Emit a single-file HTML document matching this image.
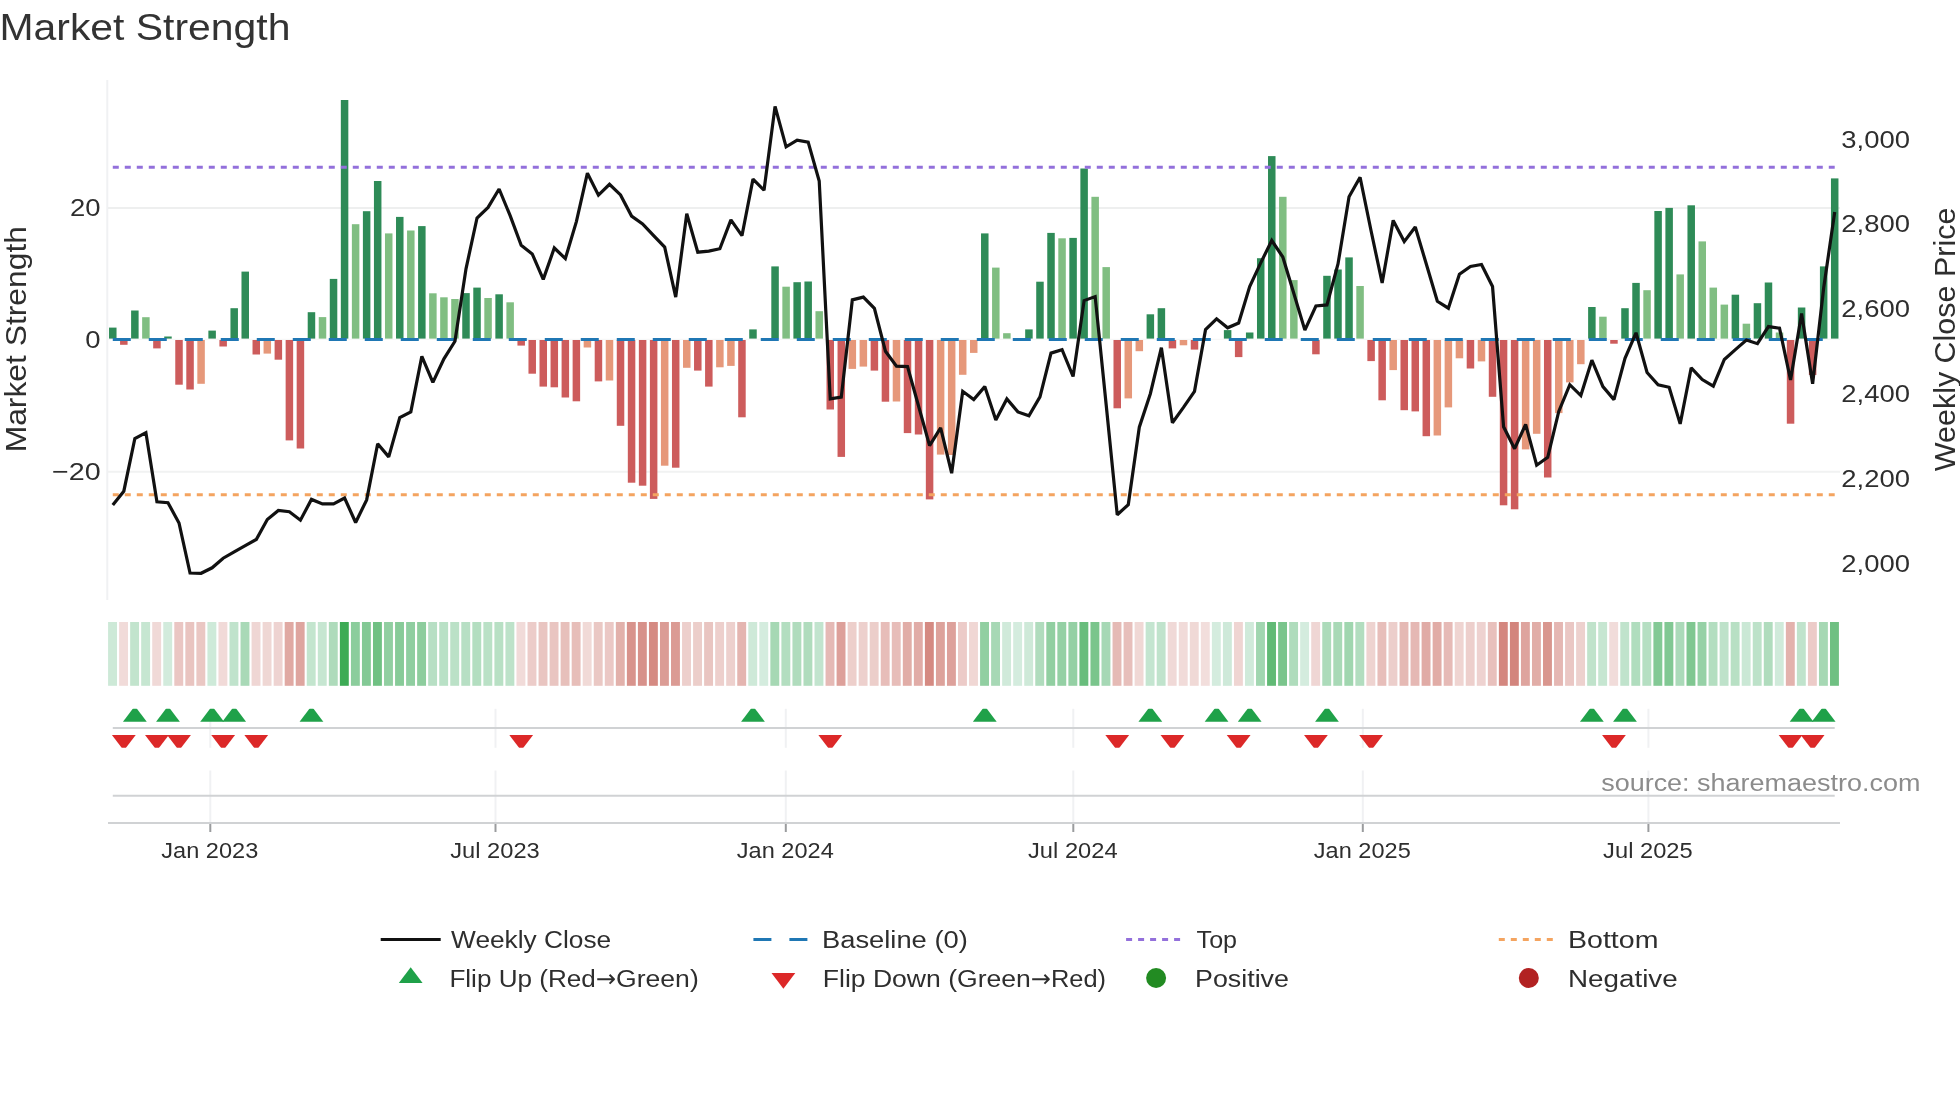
<!DOCTYPE html>
<html><head><meta charset="utf-8"><title>Market Strength</title>
<style>html,body{margin:0;padding:0;background:#fff;}svg{display:block;will-change:transform;}text{font-family:"Liberation Sans",sans-serif;}</style>
</head><body>
<svg width="1960" height="1102" viewBox="0 0 1960 1102">
<rect x="0" y="0" width="1960" height="1102" fill="#ffffff"/>
<text x="-0.5" y="40" font-size="37.08" text-anchor="start" fill="#333333" textLength="290.91" lengthAdjust="spacingAndGlyphs">Market Strength</text>
<line x1="107.3" y1="80" x2="107.3" y2="600" stroke="#f0f1f3" stroke-width="2"/>
<line x1="108" y1="208.0" x2="1840" y2="208.0" stroke="#eeefef" stroke-width="2"/>
<line x1="108" y1="471.85" x2="1840" y2="471.85" stroke="#f1f2f2" stroke-width="2"/>
<g shape-rendering="auto">
<rect x="109.03" y="327.60" width="7.5" height="11.20" fill="#2e8b57"/>
<rect x="120.07" y="340.00" width="7.5" height="4.80" fill="#cd5c5c"/>
<rect x="131.11" y="310.50" width="7.5" height="28.30" fill="#2e8b57"/>
<rect x="142.14" y="317.20" width="7.5" height="21.60" fill="#80be82"/>
<rect x="153.18" y="340.00" width="7.5" height="8.40" fill="#cd5c5c"/>
<rect x="164.22" y="336.50" width="7.5" height="2.30" fill="#2e8b57"/>
<rect x="175.26" y="340.00" width="7.5" height="44.70" fill="#cd5c5c"/>
<rect x="186.30" y="340.00" width="7.5" height="49.50" fill="#cd5c5c"/>
<rect x="197.33" y="340.00" width="7.5" height="43.80" fill="#e6987a"/>
<rect x="208.37" y="330.60" width="7.5" height="8.20" fill="#2e8b57"/>
<rect x="219.41" y="340.00" width="7.5" height="6.50" fill="#cd5c5c"/>
<rect x="230.45" y="308.20" width="7.5" height="30.60" fill="#2e8b57"/>
<rect x="241.49" y="271.60" width="7.5" height="67.20" fill="#2e8b57"/>
<rect x="252.52" y="340.00" width="7.5" height="14.50" fill="#cd5c5c"/>
<rect x="263.56" y="340.00" width="7.5" height="13.60" fill="#e6987a"/>
<rect x="274.60" y="340.00" width="7.5" height="19.70" fill="#cd5c5c"/>
<rect x="285.64" y="340.00" width="7.5" height="100.40" fill="#cd5c5c"/>
<rect x="296.68" y="340.00" width="7.5" height="108.50" fill="#cd5c5c"/>
<rect x="307.71" y="312.20" width="7.5" height="26.60" fill="#2e8b57"/>
<rect x="318.75" y="317.10" width="7.5" height="21.70" fill="#80be82"/>
<rect x="329.79" y="278.90" width="7.5" height="59.90" fill="#2e8b57"/>
<rect x="340.83" y="100.00" width="7.5" height="238.80" fill="#2e8b57"/>
<rect x="351.87" y="224.20" width="7.5" height="114.60" fill="#80be82"/>
<rect x="362.90" y="211.20" width="7.5" height="127.60" fill="#2e8b57"/>
<rect x="373.94" y="181.00" width="7.5" height="157.80" fill="#2e8b57"/>
<rect x="384.98" y="233.40" width="7.5" height="105.40" fill="#80be82"/>
<rect x="396.02" y="216.90" width="7.5" height="121.90" fill="#2e8b57"/>
<rect x="407.06" y="230.50" width="7.5" height="108.30" fill="#80be82"/>
<rect x="418.09" y="226.10" width="7.5" height="112.70" fill="#2e8b57"/>
<rect x="429.13" y="293.30" width="7.5" height="45.50" fill="#80be82"/>
<rect x="440.17" y="297.30" width="7.5" height="41.50" fill="#80be82"/>
<rect x="451.21" y="299.00" width="7.5" height="39.80" fill="#80be82"/>
<rect x="462.25" y="293.10" width="7.5" height="45.70" fill="#2e8b57"/>
<rect x="473.28" y="287.60" width="7.5" height="51.20" fill="#2e8b57"/>
<rect x="484.32" y="298.00" width="7.5" height="40.80" fill="#80be82"/>
<rect x="495.36" y="294.30" width="7.5" height="44.50" fill="#2e8b57"/>
<rect x="506.40" y="302.30" width="7.5" height="36.50" fill="#80be82"/>
<rect x="517.44" y="340.00" width="7.5" height="5.60" fill="#cd5c5c"/>
<rect x="528.47" y="340.00" width="7.5" height="33.70" fill="#cd5c5c"/>
<rect x="539.51" y="340.00" width="7.5" height="46.60" fill="#cd5c5c"/>
<rect x="550.55" y="340.00" width="7.5" height="47.30" fill="#cd5c5c"/>
<rect x="561.59" y="340.00" width="7.5" height="57.50" fill="#cd5c5c"/>
<rect x="572.63" y="340.00" width="7.5" height="61.30" fill="#cd5c5c"/>
<rect x="583.66" y="340.00" width="7.5" height="7.50" fill="#e6987a"/>
<rect x="594.70" y="340.00" width="7.5" height="41.40" fill="#cd5c5c"/>
<rect x="605.74" y="340.00" width="7.5" height="40.50" fill="#e6987a"/>
<rect x="616.78" y="340.00" width="7.5" height="85.80" fill="#cd5c5c"/>
<rect x="627.82" y="340.00" width="7.5" height="142.70" fill="#cd5c5c"/>
<rect x="638.85" y="340.00" width="7.5" height="145.70" fill="#cd5c5c"/>
<rect x="649.89" y="340.00" width="7.5" height="158.90" fill="#cd5c5c"/>
<rect x="660.93" y="340.00" width="7.5" height="125.70" fill="#e6987a"/>
<rect x="671.97" y="340.00" width="7.5" height="127.70" fill="#cd5c5c"/>
<rect x="683.01" y="340.00" width="7.5" height="27.80" fill="#e6987a"/>
<rect x="694.04" y="340.00" width="7.5" height="30.60" fill="#cd5c5c"/>
<rect x="705.08" y="340.00" width="7.5" height="46.60" fill="#cd5c5c"/>
<rect x="716.12" y="340.00" width="7.5" height="27.30" fill="#e6987a"/>
<rect x="727.16" y="340.00" width="7.5" height="25.90" fill="#e6987a"/>
<rect x="738.20" y="340.00" width="7.5" height="77.30" fill="#cd5c5c"/>
<rect x="749.23" y="329.40" width="7.5" height="9.40" fill="#2e8b57"/>
<rect x="771.31" y="266.40" width="7.5" height="72.40" fill="#2e8b57"/>
<rect x="782.35" y="286.70" width="7.5" height="52.10" fill="#80be82"/>
<rect x="793.39" y="282.20" width="7.5" height="56.60" fill="#2e8b57"/>
<rect x="804.42" y="281.50" width="7.5" height="57.30" fill="#2e8b57"/>
<rect x="815.46" y="311.20" width="7.5" height="27.60" fill="#80be82"/>
<rect x="826.50" y="340.00" width="7.5" height="69.50" fill="#cd5c5c"/>
<rect x="837.54" y="340.00" width="7.5" height="116.90" fill="#cd5c5c"/>
<rect x="848.58" y="340.00" width="7.5" height="28.90" fill="#e6987a"/>
<rect x="859.61" y="340.00" width="7.5" height="26.60" fill="#e6987a"/>
<rect x="870.65" y="340.00" width="7.5" height="30.60" fill="#cd5c5c"/>
<rect x="881.69" y="340.00" width="7.5" height="61.70" fill="#cd5c5c"/>
<rect x="892.73" y="340.00" width="7.5" height="61.50" fill="#e6987a"/>
<rect x="903.77" y="340.00" width="7.5" height="93.10" fill="#cd5c5c"/>
<rect x="914.80" y="340.00" width="7.5" height="94.50" fill="#cd5c5c"/>
<rect x="925.84" y="340.00" width="7.5" height="159.40" fill="#cd5c5c"/>
<rect x="936.88" y="340.00" width="7.5" height="114.60" fill="#e6987a"/>
<rect x="947.92" y="340.00" width="7.5" height="115.00" fill="#e6987a"/>
<rect x="958.96" y="340.00" width="7.5" height="34.80" fill="#e6987a"/>
<rect x="969.99" y="340.00" width="7.5" height="12.90" fill="#e6987a"/>
<rect x="981.03" y="233.40" width="7.5" height="105.40" fill="#2e8b57"/>
<rect x="992.07" y="267.60" width="7.5" height="71.20" fill="#80be82"/>
<rect x="1003.11" y="333.20" width="7.5" height="5.60" fill="#80be82"/>
<rect x="1025.18" y="329.40" width="7.5" height="9.40" fill="#2e8b57"/>
<rect x="1036.22" y="281.70" width="7.5" height="57.10" fill="#2e8b57"/>
<rect x="1047.26" y="232.90" width="7.5" height="105.90" fill="#2e8b57"/>
<rect x="1058.30" y="238.30" width="7.5" height="100.50" fill="#80be82"/>
<rect x="1069.34" y="237.90" width="7.5" height="100.90" fill="#2e8b57"/>
<rect x="1080.37" y="168.50" width="7.5" height="170.30" fill="#2e8b57"/>
<rect x="1091.41" y="196.80" width="7.5" height="142.00" fill="#80be82"/>
<rect x="1102.45" y="267.10" width="7.5" height="71.70" fill="#80be82"/>
<rect x="1113.49" y="340.00" width="7.5" height="68.30" fill="#cd5c5c"/>
<rect x="1124.53" y="340.00" width="7.5" height="58.40" fill="#e6987a"/>
<rect x="1135.56" y="340.00" width="7.5" height="11.20" fill="#e6987a"/>
<rect x="1146.60" y="314.30" width="7.5" height="24.50" fill="#2e8b57"/>
<rect x="1157.64" y="308.20" width="7.5" height="30.60" fill="#2e8b57"/>
<rect x="1168.68" y="340.00" width="7.5" height="8.40" fill="#cd5c5c"/>
<rect x="1179.72" y="340.00" width="7.5" height="5.30" fill="#e6987a"/>
<rect x="1190.75" y="340.00" width="7.5" height="9.60" fill="#cd5c5c"/>
<rect x="1223.87" y="330.10" width="7.5" height="8.70" fill="#2e8b57"/>
<rect x="1234.91" y="340.00" width="7.5" height="17.10" fill="#cd5c5c"/>
<rect x="1245.94" y="332.50" width="7.5" height="6.30" fill="#2e8b57"/>
<rect x="1256.98" y="258.20" width="7.5" height="80.60" fill="#2e8b57"/>
<rect x="1268.02" y="156.10" width="7.5" height="182.70" fill="#2e8b57"/>
<rect x="1279.06" y="196.80" width="7.5" height="142.00" fill="#80be82"/>
<rect x="1290.10" y="280.10" width="7.5" height="58.70" fill="#80be82"/>
<rect x="1312.17" y="340.00" width="7.5" height="14.30" fill="#cd5c5c"/>
<rect x="1323.21" y="275.80" width="7.5" height="63.00" fill="#2e8b57"/>
<rect x="1334.25" y="269.50" width="7.5" height="69.30" fill="#2e8b57"/>
<rect x="1345.29" y="257.40" width="7.5" height="81.40" fill="#2e8b57"/>
<rect x="1356.32" y="286.00" width="7.5" height="52.80" fill="#80be82"/>
<rect x="1367.36" y="340.00" width="7.5" height="21.10" fill="#cd5c5c"/>
<rect x="1378.40" y="340.00" width="7.5" height="60.30" fill="#cd5c5c"/>
<rect x="1389.44" y="340.00" width="7.5" height="30.10" fill="#e6987a"/>
<rect x="1400.48" y="340.00" width="7.5" height="70.20" fill="#cd5c5c"/>
<rect x="1411.51" y="340.00" width="7.5" height="71.40" fill="#cd5c5c"/>
<rect x="1422.55" y="340.00" width="7.5" height="96.20" fill="#cd5c5c"/>
<rect x="1433.59" y="340.00" width="7.5" height="95.50" fill="#e6987a"/>
<rect x="1444.63" y="340.00" width="7.5" height="67.40" fill="#e6987a"/>
<rect x="1455.67" y="340.00" width="7.5" height="18.30" fill="#e6987a"/>
<rect x="1466.70" y="340.00" width="7.5" height="28.50" fill="#cd5c5c"/>
<rect x="1477.74" y="340.00" width="7.5" height="21.40" fill="#e6987a"/>
<rect x="1488.78" y="340.00" width="7.5" height="56.80" fill="#cd5c5c"/>
<rect x="1499.82" y="340.00" width="7.5" height="165.30" fill="#cd5c5c"/>
<rect x="1510.86" y="340.00" width="7.5" height="169.30" fill="#cd5c5c"/>
<rect x="1521.89" y="340.00" width="7.5" height="109.40" fill="#e6987a"/>
<rect x="1532.93" y="340.00" width="7.5" height="93.80" fill="#e6987a"/>
<rect x="1543.97" y="340.00" width="7.5" height="137.50" fill="#cd5c5c"/>
<rect x="1555.01" y="340.00" width="7.5" height="73.10" fill="#e6987a"/>
<rect x="1566.05" y="340.00" width="7.5" height="42.40" fill="#e6987a"/>
<rect x="1577.08" y="340.00" width="7.5" height="24.20" fill="#e6987a"/>
<rect x="1588.12" y="307.00" width="7.5" height="31.80" fill="#2e8b57"/>
<rect x="1599.16" y="316.70" width="7.5" height="22.10" fill="#80be82"/>
<rect x="1610.20" y="340.00" width="7.5" height="3.70" fill="#cd5c5c"/>
<rect x="1621.24" y="308.20" width="7.5" height="30.60" fill="#2e8b57"/>
<rect x="1632.27" y="282.90" width="7.5" height="55.90" fill="#2e8b57"/>
<rect x="1643.31" y="290.20" width="7.5" height="48.60" fill="#80be82"/>
<rect x="1654.35" y="211.00" width="7.5" height="127.80" fill="#2e8b57"/>
<rect x="1665.39" y="207.90" width="7.5" height="130.90" fill="#2e8b57"/>
<rect x="1676.43" y="274.40" width="7.5" height="64.40" fill="#80be82"/>
<rect x="1687.46" y="205.30" width="7.5" height="133.50" fill="#2e8b57"/>
<rect x="1698.50" y="241.40" width="7.5" height="97.40" fill="#80be82"/>
<rect x="1709.54" y="287.60" width="7.5" height="51.20" fill="#80be82"/>
<rect x="1720.58" y="304.60" width="7.5" height="34.20" fill="#80be82"/>
<rect x="1731.62" y="294.70" width="7.5" height="44.10" fill="#2e8b57"/>
<rect x="1742.65" y="323.70" width="7.5" height="15.10" fill="#80be82"/>
<rect x="1753.69" y="303.20" width="7.5" height="35.60" fill="#2e8b57"/>
<rect x="1764.73" y="282.50" width="7.5" height="56.30" fill="#2e8b57"/>
<rect x="1775.77" y="332.50" width="7.5" height="6.30" fill="#80be82"/>
<rect x="1786.81" y="340.00" width="7.5" height="83.70" fill="#cd5c5c"/>
<rect x="1797.84" y="307.50" width="7.5" height="31.30" fill="#2e8b57"/>
<rect x="1808.88" y="340.00" width="7.5" height="35.00" fill="#cd5c5c"/>
<rect x="1819.92" y="266.40" width="7.5" height="72.40" fill="#2e8b57"/>
<rect x="1830.96" y="178.40" width="7.5" height="160.40" fill="#2e8b57"/>
</g>
<line x1="108" y1="339.4" x2="1840" y2="339.4" stroke="#f6f7f7" stroke-width="1.2"/>
<line x1="112.78" y1="339.4" x2="1834.71" y2="339.4" stroke="#1f77b4" stroke-width="3" stroke-dasharray="18,18"/>
<line x1="112.78" y1="167.3" x2="1834.71" y2="167.3" stroke="#9370db" stroke-width="3" stroke-dasharray="6,6"/>
<line x1="112.78" y1="494.7" x2="1834.71" y2="494.7" stroke="#f4a460" stroke-width="3" stroke-dasharray="6,6"/>
<polyline points="112.78,505.1 123.82,491.2 134.86,438.5 145.89,432.6 156.93,501.8 167.97,502.7 179.01,523.0 190.05,573.0 201.08,573.3 212.12,567.8 223.16,558.2 234.20,551.8 245.24,545.7 256.27,539.5 267.31,519.5 278.35,510.5 289.39,511.7 300.43,520.2 311.46,499.4 322.50,503.9 333.54,503.9 344.58,498.0 355.62,522.5 366.65,499.9 377.69,443.7 388.73,456.9 399.77,417.5 410.81,411.9 421.84,356.4 432.88,382.4 443.92,358.8 454.96,341.3 466.00,268.8 477.03,218.0 488.07,207.4 499.11,189.0 510.15,215.7 521.19,245.2 532.22,253.9 543.26,279.4 554.30,248.0 565.34,258.6 576.38,221.6 587.41,173.2 598.45,195.1 609.49,184.3 620.53,194.9 631.57,216.1 642.60,223.9 653.64,235.7 664.68,247.1 675.72,297.1 686.76,213.8 697.79,252.2 708.83,251.1 719.87,248.7 730.91,219.9 741.95,235.7 752.98,179.1 764.02,190.2 775.06,106.4 786.10,146.8 797.14,140.2 808.17,142.1 819.21,181.0 830.25,398.9 841.29,397.2 852.33,299.9 863.36,297.1 874.40,308.4 885.44,351.2 896.48,366.1 907.52,366.6 918.55,406.0 929.59,445.6 940.63,427.9 951.67,473.2 962.71,391.3 973.74,399.6 984.78,386.6 995.82,420.1 1006.86,398.9 1017.90,411.9 1028.93,415.7 1039.97,396.8 1051.01,353.1 1062.05,349.6 1073.09,376.5 1084.12,300.6 1095.16,296.6 1106.20,405.0 1117.24,514.8 1128.28,504.6 1139.31,427.2 1150.35,393.7 1161.39,347.7 1172.43,422.7 1183.47,407.4 1194.50,391.3 1205.54,329.6 1216.58,318.8 1227.62,327.8 1238.66,323.0 1249.69,286.5 1260.73,262.9 1271.77,240.5 1282.81,257.0 1293.85,293.5 1304.88,330.1 1315.92,306.0 1326.96,304.9 1338.00,264.0 1349.04,196.8 1360.07,177.2 1371.11,231.0 1382.15,282.9 1393.19,220.4 1404.23,241.6 1415.26,227.0 1426.30,264.0 1437.34,301.3 1448.38,308.2 1459.42,274.2 1470.45,266.4 1481.49,264.5 1492.53,286.5 1503.57,426.7 1514.61,448.7 1525.64,424.4 1536.68,465.2 1547.72,457.4 1558.76,411.4 1569.80,384.7 1580.83,395.6 1591.87,360.2 1602.91,386.6 1613.95,399.6 1624.99,358.3 1636.02,332.8 1647.06,372.5 1658.10,384.7 1669.14,387.3 1680.18,423.9 1691.21,367.8 1702.25,379.6 1713.29,386.2 1724.33,359.5 1735.37,349.6 1746.40,340.1 1757.44,343.7 1768.48,326.6 1779.52,328.2 1790.56,380.0 1801.59,313.6 1812.63,383.8 1823.67,288.0 1834.71,212.1" fill="none" stroke="#111111" stroke-width="3.2" stroke-linejoin="miter" stroke-miterlimit="2"/>
<text x="100.6" y="216.0" font-size="24.72" text-anchor="end" fill="#2e2e2e" textLength="30.53" lengthAdjust="spacingAndGlyphs">20</text>
<text x="100.6" y="347.8" font-size="24.72" text-anchor="end" fill="#2e2e2e" textLength="15.27" lengthAdjust="spacingAndGlyphs">0</text>
<text x="100.6" y="479.8" font-size="24.72" text-anchor="end" fill="#2e2e2e" textLength="48.64" lengthAdjust="spacingAndGlyphs">−20</text>
<text x="1841.3" y="147.6" font-size="24.72" text-anchor="start" fill="#2e2e2e" textLength="68.69" lengthAdjust="spacingAndGlyphs">3,000</text>
<text x="1841.3" y="232.42" font-size="24.72" text-anchor="start" fill="#2e2e2e" textLength="68.69" lengthAdjust="spacingAndGlyphs">2,800</text>
<text x="1841.3" y="317.24" font-size="24.72" text-anchor="start" fill="#2e2e2e" textLength="68.69" lengthAdjust="spacingAndGlyphs">2,600</text>
<text x="1841.3" y="402.05999999999995" font-size="24.72" text-anchor="start" fill="#2e2e2e" textLength="68.69" lengthAdjust="spacingAndGlyphs">2,400</text>
<text x="1841.3" y="486.88" font-size="24.72" text-anchor="start" fill="#2e2e2e" textLength="68.69" lengthAdjust="spacingAndGlyphs">2,200</text>
<text x="1841.3" y="571.6999999999999" font-size="24.72" text-anchor="start" fill="#2e2e2e" textLength="68.69" lengthAdjust="spacingAndGlyphs">2,000</text>
<text x="26.2" y="339.2" font-size="28.84" text-anchor="middle" fill="#2e2e2e" textLength="226.34" lengthAdjust="spacingAndGlyphs" transform="rotate(-90 26.2 339.2)">Market Strength</text>
<text x="1954.6" y="339.4" font-size="28.84" text-anchor="middle" fill="#2e2e2e" textLength="263.52" lengthAdjust="spacingAndGlyphs" transform="rotate(-90 1954.6 339.4)">Weekly Close Price</text>
<rect x="108.08" y="622" width="8.9" height="63.8" fill="#cde9d7"/>
<rect x="119.12" y="622" width="8.9" height="63.8" fill="#f1dbd9"/>
<rect x="130.16" y="622" width="8.9" height="63.8" fill="#c2e4cd"/>
<rect x="141.19" y="622" width="8.9" height="63.8" fill="#c6e6d1"/>
<rect x="152.23" y="622" width="8.9" height="63.8" fill="#f0d9d7"/>
<rect x="163.27" y="622" width="8.9" height="63.8" fill="#d2ebdc"/>
<rect x="174.31" y="622" width="8.9" height="63.8" fill="#eac6c3"/>
<rect x="185.35" y="622" width="8.9" height="63.8" fill="#e9c4c0"/>
<rect x="196.38" y="622" width="8.9" height="63.8" fill="#eac7c3"/>
<rect x="207.42" y="622" width="8.9" height="63.8" fill="#ceead9"/>
<rect x="218.46" y="622" width="8.9" height="63.8" fill="#f1dad8"/>
<rect x="229.50" y="622" width="8.9" height="63.8" fill="#c0e3cc"/>
<rect x="240.54" y="622" width="8.9" height="63.8" fill="#a9d9b7"/>
<rect x="251.57" y="622" width="8.9" height="63.8" fill="#efd6d4"/>
<rect x="262.61" y="622" width="8.9" height="63.8" fill="#efd7d4"/>
<rect x="273.65" y="622" width="8.9" height="63.8" fill="#eed3d1"/>
<rect x="284.69" y="622" width="8.9" height="63.8" fill="#e0a9a3"/>
<rect x="295.73" y="622" width="8.9" height="63.8" fill="#dea59f"/>
<rect x="306.76" y="622" width="8.9" height="63.8" fill="#c3e5ce"/>
<rect x="317.80" y="622" width="8.9" height="63.8" fill="#c6e6d1"/>
<rect x="328.84" y="622" width="8.9" height="63.8" fill="#aedbbb"/>
<rect x="339.88" y="622" width="8.9" height="63.8" fill="#3dab55"/>
<rect x="350.92" y="622" width="8.9" height="63.8" fill="#8bcd9c"/>
<rect x="361.95" y="622" width="8.9" height="63.8" fill="#83c995"/>
<rect x="372.99" y="622" width="8.9" height="63.8" fill="#70c183"/>
<rect x="384.03" y="622" width="8.9" height="63.8" fill="#91cfa1"/>
<rect x="395.07" y="622" width="8.9" height="63.8" fill="#87cb98"/>
<rect x="406.11" y="622" width="8.9" height="63.8" fill="#8fcea0"/>
<rect x="417.14" y="622" width="8.9" height="63.8" fill="#8dcd9d"/>
<rect x="428.18" y="622" width="8.9" height="63.8" fill="#b7dfc4"/>
<rect x="439.22" y="622" width="8.9" height="63.8" fill="#b9e1c6"/>
<rect x="450.26" y="622" width="8.9" height="63.8" fill="#bbe1c7"/>
<rect x="461.30" y="622" width="8.9" height="63.8" fill="#b7dfc4"/>
<rect x="472.33" y="622" width="8.9" height="63.8" fill="#b3dec0"/>
<rect x="483.37" y="622" width="8.9" height="63.8" fill="#bae1c6"/>
<rect x="494.41" y="622" width="8.9" height="63.8" fill="#b8e0c4"/>
<rect x="505.45" y="622" width="8.9" height="63.8" fill="#bde2c9"/>
<rect x="516.49" y="622" width="8.9" height="63.8" fill="#f1dbd9"/>
<rect x="527.52" y="622" width="8.9" height="63.8" fill="#ecccc9"/>
<rect x="538.56" y="622" width="8.9" height="63.8" fill="#e9c5c1"/>
<rect x="549.60" y="622" width="8.9" height="63.8" fill="#e9c5c1"/>
<rect x="560.64" y="622" width="8.9" height="63.8" fill="#e7c0bb"/>
<rect x="571.68" y="622" width="8.9" height="63.8" fill="#e7beb9"/>
<rect x="582.71" y="622" width="8.9" height="63.8" fill="#f1dad7"/>
<rect x="593.75" y="622" width="8.9" height="63.8" fill="#eac8c4"/>
<rect x="604.79" y="622" width="8.9" height="63.8" fill="#ebc8c5"/>
<rect x="615.83" y="622" width="8.9" height="63.8" fill="#e2b1ab"/>
<rect x="626.87" y="622" width="8.9" height="63.8" fill="#d8938c"/>
<rect x="637.90" y="622" width="8.9" height="63.8" fill="#d7918a"/>
<rect x="648.94" y="622" width="8.9" height="63.8" fill="#d58a82"/>
<rect x="659.98" y="622" width="8.9" height="63.8" fill="#db9c95"/>
<rect x="671.02" y="622" width="8.9" height="63.8" fill="#db9b94"/>
<rect x="682.06" y="622" width="8.9" height="63.8" fill="#edcfcc"/>
<rect x="693.09" y="622" width="8.9" height="63.8" fill="#ecceca"/>
<rect x="704.13" y="622" width="8.9" height="63.8" fill="#e9c5c1"/>
<rect x="715.17" y="622" width="8.9" height="63.8" fill="#edcfcc"/>
<rect x="726.21" y="622" width="8.9" height="63.8" fill="#edd0cd"/>
<rect x="737.25" y="622" width="8.9" height="63.8" fill="#e4b5b0"/>
<rect x="748.28" y="622" width="8.9" height="63.8" fill="#cee9d8"/>
<rect x="759.32" y="622" width="8.9" height="63.8" fill="#d4ecde"/>
<rect x="770.36" y="622" width="8.9" height="63.8" fill="#a6d8b4"/>
<rect x="781.40" y="622" width="8.9" height="63.8" fill="#b3dec0"/>
<rect x="792.44" y="622" width="8.9" height="63.8" fill="#b0dcbd"/>
<rect x="803.47" y="622" width="8.9" height="63.8" fill="#b0dcbd"/>
<rect x="814.51" y="622" width="8.9" height="63.8" fill="#c2e4ce"/>
<rect x="825.55" y="622" width="8.9" height="63.8" fill="#e5b9b5"/>
<rect x="836.59" y="622" width="8.9" height="63.8" fill="#dda09a"/>
<rect x="847.63" y="622" width="8.9" height="63.8" fill="#edcfcb"/>
<rect x="858.66" y="622" width="8.9" height="63.8" fill="#edd0cd"/>
<rect x="869.70" y="622" width="8.9" height="63.8" fill="#ecceca"/>
<rect x="880.74" y="622" width="8.9" height="63.8" fill="#e7bdb9"/>
<rect x="891.78" y="622" width="8.9" height="63.8" fill="#e7bdb9"/>
<rect x="902.82" y="622" width="8.9" height="63.8" fill="#e1ada7"/>
<rect x="913.85" y="622" width="8.9" height="63.8" fill="#e1aca7"/>
<rect x="924.89" y="622" width="8.9" height="63.8" fill="#d58a82"/>
<rect x="935.93" y="622" width="8.9" height="63.8" fill="#dda29b"/>
<rect x="946.97" y="622" width="8.9" height="63.8" fill="#dda19b"/>
<rect x="958.01" y="622" width="8.9" height="63.8" fill="#eccbc8"/>
<rect x="969.04" y="622" width="8.9" height="63.8" fill="#f0d7d4"/>
<rect x="980.08" y="622" width="8.9" height="63.8" fill="#91cfa1"/>
<rect x="991.12" y="622" width="8.9" height="63.8" fill="#a7d8b5"/>
<rect x="1002.16" y="622" width="8.9" height="63.8" fill="#d0eada"/>
<rect x="1013.20" y="622" width="8.9" height="63.8" fill="#d4ecde"/>
<rect x="1024.23" y="622" width="8.9" height="63.8" fill="#cee9d8"/>
<rect x="1035.27" y="622" width="8.9" height="63.8" fill="#b0dcbd"/>
<rect x="1046.31" y="622" width="8.9" height="63.8" fill="#91cfa1"/>
<rect x="1057.35" y="622" width="8.9" height="63.8" fill="#94d0a4"/>
<rect x="1068.39" y="622" width="8.9" height="63.8" fill="#94d0a4"/>
<rect x="1079.42" y="622" width="8.9" height="63.8" fill="#68bd7c"/>
<rect x="1090.46" y="622" width="8.9" height="63.8" fill="#7ac58c"/>
<rect x="1101.50" y="622" width="8.9" height="63.8" fill="#a6d8b5"/>
<rect x="1112.54" y="622" width="8.9" height="63.8" fill="#e5bab5"/>
<rect x="1123.58" y="622" width="8.9" height="63.8" fill="#e7bfbb"/>
<rect x="1134.61" y="622" width="8.9" height="63.8" fill="#f0d8d5"/>
<rect x="1145.65" y="622" width="8.9" height="63.8" fill="#c4e5d0"/>
<rect x="1156.69" y="622" width="8.9" height="63.8" fill="#c0e3cc"/>
<rect x="1167.73" y="622" width="8.9" height="63.8" fill="#f0d9d7"/>
<rect x="1178.77" y="622" width="8.9" height="63.8" fill="#f1dbd9"/>
<rect x="1189.80" y="622" width="8.9" height="63.8" fill="#f0d9d6"/>
<rect x="1200.84" y="622" width="8.9" height="63.8" fill="#f2dedc"/>
<rect x="1211.88" y="622" width="8.9" height="63.8" fill="#d4ecde"/>
<rect x="1222.92" y="622" width="8.9" height="63.8" fill="#cee9d9"/>
<rect x="1233.96" y="622" width="8.9" height="63.8" fill="#efd5d2"/>
<rect x="1244.99" y="622" width="8.9" height="63.8" fill="#d0eada"/>
<rect x="1256.03" y="622" width="8.9" height="63.8" fill="#a1d6b0"/>
<rect x="1267.07" y="622" width="8.9" height="63.8" fill="#61ba75"/>
<rect x="1278.11" y="622" width="8.9" height="63.8" fill="#7ac58c"/>
<rect x="1289.15" y="622" width="8.9" height="63.8" fill="#afdcbc"/>
<rect x="1300.18" y="622" width="8.9" height="63.8" fill="#d4ecde"/>
<rect x="1311.22" y="622" width="8.9" height="63.8" fill="#efd6d4"/>
<rect x="1322.26" y="622" width="8.9" height="63.8" fill="#acdbba"/>
<rect x="1333.30" y="622" width="8.9" height="63.8" fill="#a8d9b6"/>
<rect x="1344.34" y="622" width="8.9" height="63.8" fill="#a0d6af"/>
<rect x="1355.37" y="622" width="8.9" height="63.8" fill="#b2ddbf"/>
<rect x="1366.41" y="622" width="8.9" height="63.8" fill="#eed3d0"/>
<rect x="1377.45" y="622" width="8.9" height="63.8" fill="#e7beba"/>
<rect x="1388.49" y="622" width="8.9" height="63.8" fill="#eccecb"/>
<rect x="1399.53" y="622" width="8.9" height="63.8" fill="#e5b9b4"/>
<rect x="1410.56" y="622" width="8.9" height="63.8" fill="#e5b8b4"/>
<rect x="1421.60" y="622" width="8.9" height="63.8" fill="#e0aba6"/>
<rect x="1432.64" y="622" width="8.9" height="63.8" fill="#e1aca6"/>
<rect x="1443.68" y="622" width="8.9" height="63.8" fill="#e6bab6"/>
<rect x="1454.72" y="622" width="8.9" height="63.8" fill="#efd4d1"/>
<rect x="1465.75" y="622" width="8.9" height="63.8" fill="#edcfcc"/>
<rect x="1476.79" y="622" width="8.9" height="63.8" fill="#eed2d0"/>
<rect x="1487.83" y="622" width="8.9" height="63.8" fill="#e8c0bc"/>
<rect x="1498.87" y="622" width="8.9" height="63.8" fill="#d4877f"/>
<rect x="1509.91" y="622" width="8.9" height="63.8" fill="#d3857d"/>
<rect x="1520.94" y="622" width="8.9" height="63.8" fill="#dea49e"/>
<rect x="1531.98" y="622" width="8.9" height="63.8" fill="#e1ada7"/>
<rect x="1543.02" y="622" width="8.9" height="63.8" fill="#d9968e"/>
<rect x="1554.06" y="622" width="8.9" height="63.8" fill="#e5b7b3"/>
<rect x="1565.10" y="622" width="8.9" height="63.8" fill="#eac7c4"/>
<rect x="1576.13" y="622" width="8.9" height="63.8" fill="#edd1ce"/>
<rect x="1587.17" y="622" width="8.9" height="63.8" fill="#c0e3cb"/>
<rect x="1598.21" y="622" width="8.9" height="63.8" fill="#c6e6d1"/>
<rect x="1609.25" y="622" width="8.9" height="63.8" fill="#f1dcda"/>
<rect x="1620.29" y="622" width="8.9" height="63.8" fill="#c0e3cc"/>
<rect x="1631.32" y="622" width="8.9" height="63.8" fill="#b0ddbe"/>
<rect x="1642.36" y="622" width="8.9" height="63.8" fill="#b5dfc2"/>
<rect x="1653.40" y="622" width="8.9" height="63.8" fill="#83c995"/>
<rect x="1664.44" y="622" width="8.9" height="63.8" fill="#81c893"/>
<rect x="1675.48" y="622" width="8.9" height="63.8" fill="#abdab9"/>
<rect x="1686.51" y="622" width="8.9" height="63.8" fill="#80c791"/>
<rect x="1697.55" y="622" width="8.9" height="63.8" fill="#96d1a6"/>
<rect x="1708.59" y="622" width="8.9" height="63.8" fill="#b3dec0"/>
<rect x="1719.63" y="622" width="8.9" height="63.8" fill="#bee2ca"/>
<rect x="1730.67" y="622" width="8.9" height="63.8" fill="#b8e0c4"/>
<rect x="1741.70" y="622" width="8.9" height="63.8" fill="#cae8d5"/>
<rect x="1752.74" y="622" width="8.9" height="63.8" fill="#bde2c9"/>
<rect x="1763.78" y="622" width="8.9" height="63.8" fill="#b0dcbd"/>
<rect x="1774.82" y="622" width="8.9" height="63.8" fill="#d0eada"/>
<rect x="1785.86" y="622" width="8.9" height="63.8" fill="#e3b2ad"/>
<rect x="1796.89" y="622" width="8.9" height="63.8" fill="#c0e3cc"/>
<rect x="1807.93" y="622" width="8.9" height="63.8" fill="#eccbc8"/>
<rect x="1818.97" y="622" width="8.9" height="63.8" fill="#a6d8b4"/>
<rect x="1830.01" y="622" width="8.9" height="63.8" fill="#6fc082"/>
<line x1="210.3" y1="708.8" x2="210.3" y2="747.8" stroke="#f0f1f3" stroke-width="2"/>
<line x1="210.3" y1="770.5" x2="210.3" y2="823" stroke="#f0f1f3" stroke-width="2"/>
<line x1="495.5" y1="708.8" x2="495.5" y2="747.8" stroke="#f0f1f3" stroke-width="2"/>
<line x1="495.5" y1="770.5" x2="495.5" y2="823" stroke="#f0f1f3" stroke-width="2"/>
<line x1="785.8" y1="708.8" x2="785.8" y2="747.8" stroke="#f0f1f3" stroke-width="2"/>
<line x1="785.8" y1="770.5" x2="785.8" y2="823" stroke="#f0f1f3" stroke-width="2"/>
<line x1="1073.3" y1="708.8" x2="1073.3" y2="747.8" stroke="#f0f1f3" stroke-width="2"/>
<line x1="1073.3" y1="770.5" x2="1073.3" y2="823" stroke="#f0f1f3" stroke-width="2"/>
<line x1="1362.8" y1="708.8" x2="1362.8" y2="747.8" stroke="#f0f1f3" stroke-width="2"/>
<line x1="1362.8" y1="770.5" x2="1362.8" y2="823" stroke="#f0f1f3" stroke-width="2"/>
<line x1="1648.4" y1="708.8" x2="1648.4" y2="747.8" stroke="#f0f1f3" stroke-width="2"/>
<line x1="1648.4" y1="770.5" x2="1648.4" y2="823" stroke="#f0f1f3" stroke-width="2"/>
<line x1="112.78" y1="728" x2="1834.71" y2="728" stroke="#d0d2d4" stroke-width="2"/>
<line x1="112.78" y1="795.8" x2="1834.71" y2="795.8" stroke="#d0d2d4" stroke-width="2"/>
<clipPath id="c3"><rect x="100" y="708.8" width="1750" height="39"/></clipPath>
<g clip-path="url(#c3)">
<path d="M122.96,721.70H146.76L134.86,706.00Z" fill="#1fa149"/>
<path d="M156.07,721.70H179.87L167.97,706.00Z" fill="#1fa149"/>
<path d="M200.22,721.70H224.02L212.12,706.00Z" fill="#1fa149"/>
<path d="M222.30,721.70H246.10L234.20,706.00Z" fill="#1fa149"/>
<path d="M299.56,721.70H323.36L311.46,706.00Z" fill="#1fa149"/>
<path d="M741.08,721.70H764.88L752.98,706.00Z" fill="#1fa149"/>
<path d="M972.88,721.70H996.68L984.78,706.00Z" fill="#1fa149"/>
<path d="M1138.45,721.70H1162.25L1150.35,706.00Z" fill="#1fa149"/>
<path d="M1204.68,721.70H1228.48L1216.58,706.00Z" fill="#1fa149"/>
<path d="M1237.79,721.70H1261.59L1249.69,706.00Z" fill="#1fa149"/>
<path d="M1315.06,721.70H1338.86L1326.96,706.00Z" fill="#1fa149"/>
<path d="M1579.97,721.70H1603.77L1591.87,706.00Z" fill="#1fa149"/>
<path d="M1613.09,721.70H1636.89L1624.99,706.00Z" fill="#1fa149"/>
<path d="M1789.69,721.70H1813.49L1801.59,706.00Z" fill="#1fa149"/>
<path d="M1811.77,721.70H1835.57L1823.67,706.00Z" fill="#1fa149"/>
<path d="M111.92,734.90H135.72L123.82,750.60Z" fill="#dc2828"/>
<path d="M145.03,734.90H168.83L156.93,750.60Z" fill="#dc2828"/>
<path d="M167.11,734.90H190.91L179.01,750.60Z" fill="#dc2828"/>
<path d="M211.26,734.90H235.06L223.16,750.60Z" fill="#dc2828"/>
<path d="M244.37,734.90H268.17L256.27,750.60Z" fill="#dc2828"/>
<path d="M509.29,734.90H533.09L521.19,750.60Z" fill="#dc2828"/>
<path d="M818.35,734.90H842.15L830.25,750.60Z" fill="#dc2828"/>
<path d="M1105.34,734.90H1129.14L1117.24,750.60Z" fill="#dc2828"/>
<path d="M1160.53,734.90H1184.33L1172.43,750.60Z" fill="#dc2828"/>
<path d="M1226.76,734.90H1250.56L1238.66,750.60Z" fill="#dc2828"/>
<path d="M1304.02,734.90H1327.82L1315.92,750.60Z" fill="#dc2828"/>
<path d="M1359.21,734.90H1383.01L1371.11,750.60Z" fill="#dc2828"/>
<path d="M1602.05,734.90H1625.85L1613.95,750.60Z" fill="#dc2828"/>
<path d="M1778.66,734.90H1802.46L1790.56,750.60Z" fill="#dc2828"/>
<path d="M1800.73,734.90H1824.53L1812.63,750.60Z" fill="#dc2828"/>
</g>
<line x1="108" y1="823" x2="1840" y2="823" stroke="#d0d2d4" stroke-width="2"/>
<line x1="210.3" y1="824" x2="210.3" y2="832" stroke="#9a9c9e" stroke-width="2"/>
<text x="209.8" y="857.9" font-size="22.66" text-anchor="middle" fill="#2e2e2e" textLength="96.91" lengthAdjust="spacingAndGlyphs">Jan 2023</text>
<line x1="495.5" y1="824" x2="495.5" y2="832" stroke="#9a9c9e" stroke-width="2"/>
<text x="495.0" y="857.9" font-size="22.66" text-anchor="middle" fill="#2e2e2e" textLength="89.53" lengthAdjust="spacingAndGlyphs">Jul 2023</text>
<line x1="785.8" y1="824" x2="785.8" y2="832" stroke="#9a9c9e" stroke-width="2"/>
<text x="785.3" y="857.9" font-size="22.66" text-anchor="middle" fill="#2e2e2e" textLength="96.91" lengthAdjust="spacingAndGlyphs">Jan 2024</text>
<line x1="1073.3" y1="824" x2="1073.3" y2="832" stroke="#9a9c9e" stroke-width="2"/>
<text x="1072.8" y="857.9" font-size="22.66" text-anchor="middle" fill="#2e2e2e" textLength="89.53" lengthAdjust="spacingAndGlyphs">Jul 2024</text>
<line x1="1362.8" y1="824" x2="1362.8" y2="832" stroke="#9a9c9e" stroke-width="2"/>
<text x="1362.3" y="857.9" font-size="22.66" text-anchor="middle" fill="#2e2e2e" textLength="96.91" lengthAdjust="spacingAndGlyphs">Jan 2025</text>
<line x1="1648.4" y1="824" x2="1648.4" y2="832" stroke="#9a9c9e" stroke-width="2"/>
<text x="1647.9" y="857.9" font-size="22.66" text-anchor="middle" fill="#2e2e2e" textLength="89.53" lengthAdjust="spacingAndGlyphs">Jul 2025</text>
<text x="1601.2" y="791.4" font-size="24.72" text-anchor="start" fill="#8c8c8c" textLength="319.22" lengthAdjust="spacingAndGlyphs">source: sharemaestro.com</text>
<line x1="380.7" y1="939.5" x2="440.7" y2="939.5" stroke="#111111" stroke-width="3.2"/>
<line x1="753.4" y1="939.5" x2="813.4" y2="939.5" stroke="#1f77b4" stroke-width="3" stroke-dasharray="18,18"/>
<line x1="1126.1" y1="939.5" x2="1186.1" y2="939.5" stroke="#9370db" stroke-width="3" stroke-dasharray="6,6"/>
<line x1="1498.8" y1="939.5" x2="1558.8" y2="939.5" stroke="#f4a460" stroke-width="3" stroke-dasharray="6,6"/>
<path d="M398.80,983.00H422.60L410.70,967.30Z" fill="#1fa149"/>
<path d="M771.50,973.00H795.30L783.40,988.70Z" fill="#dc2828"/>
<circle cx="1156.1" cy="978.0" r="10" fill="#228b22"/>
<circle cx="1528.8" cy="978.0" r="10" fill="#b22222"/>
<text x="451.1" y="948.2" font-size="24.72" text-anchor="start" fill="#2e2e2e" textLength="160.06" lengthAdjust="spacingAndGlyphs">Weekly Close</text>
<text x="822.0" y="948.2" font-size="24.72" text-anchor="start" fill="#2e2e2e" textLength="145.78" lengthAdjust="spacingAndGlyphs">Baseline (0)</text>
<text x="1196.6" y="948.2" font-size="24.72" text-anchor="start" fill="#2e2e2e" textLength="40.50" lengthAdjust="spacingAndGlyphs">Top</text>
<text x="1568.0" y="948.2" font-size="24.72" text-anchor="start" fill="#2e2e2e" textLength="90.43" lengthAdjust="spacingAndGlyphs">Bottom</text>
<text x="449.4" y="986.7" font-size="24.72" text-anchor="start" fill="#2e2e2e" textLength="146.45" lengthAdjust="spacingAndGlyphs">Flip Up (Red</text>
<path d="M1616 687V597L1223 204L1103 324L1336 557H117V727H1336L1103 960L1223 1080Z" fill="#2e2e2e" transform="translate(595.85 986.7) scale(0.01180 -0.01172)"/>
<text x="616.1" y="986.7" font-size="24.72" text-anchor="start" fill="#2e2e2e" textLength="82.64" lengthAdjust="spacingAndGlyphs">Green)</text>
<text x="822.8" y="986.7" font-size="24.72" text-anchor="start" fill="#2e2e2e" textLength="208.00" lengthAdjust="spacingAndGlyphs">Flip Down (Green</text>
<path d="M1616 687V597L1223 204L1103 324L1336 557H117V727H1336L1103 960L1223 1080Z" fill="#2e2e2e" transform="translate(1030.80 986.7) scale(0.01174 -0.01172)"/>
<text x="1050.93" y="986.7" font-size="24.72" text-anchor="start" fill="#2e2e2e" textLength="55.03" lengthAdjust="spacingAndGlyphs">Red)</text>
<text x="1195.1" y="986.7" font-size="24.72" text-anchor="start" fill="#2e2e2e" textLength="93.82" lengthAdjust="spacingAndGlyphs">Positive</text>
<text x="1568.0" y="986.7" font-size="24.72" text-anchor="start" fill="#2e2e2e" textLength="109.70" lengthAdjust="spacingAndGlyphs">Negative</text>
</svg>
</body></html>
